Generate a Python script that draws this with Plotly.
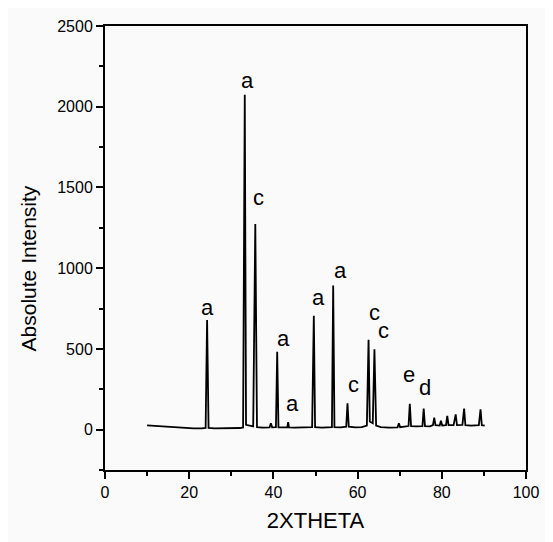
import plotly.graph_objects as go

# XRD pattern (2-theta in degrees, absolute intensity)
two_theta = [10.0, 11.0, 13.0, 15.0, 17.0, 19.0, 21.0, 23.0, 23.9, 24.25, 24.6,
             26.0, 28.0, 30.0, 32.0, 32.8, 33.2, 33.5, 35.2, 35.7, 36.1,
             37.5, 39.1, 39.4, 39.7, 40.6, 40.9, 41.2, 42.5, 43.3, 43.5, 43.7,
             45.0, 47.0, 49.2, 49.6, 49.9, 51.5, 53.9, 54.2, 54.5, 56.0,
             57.3, 57.6, 57.9, 59.5, 61.0, 62.2, 62.6, 62.9, 63.6, 64.0, 64.4,
             65.5, 67.5, 69.5, 69.8, 70.1, 71.5, 72.1, 72.4, 72.7, 74.0,
             75.4, 75.7, 76.0, 77.2, 77.9, 78.2, 78.5, 79.5, 79.8, 80.1,
             81.0, 81.3, 81.6, 82.8, 83.3, 83.6, 84.9, 85.3, 85.6, 87.0,
             88.8, 89.2, 89.5, 90.2]
intensity = [26, 24, 20, 16, 13, 10, 8, 8, 10, 679, 10,
             8, 8, 9, 10, 14, 2074, 30, 20, 1273, 15,
             12, 14, 40, 14, 15, 482, 14, 12, 14, 46, 14,
             12, 12, 16, 706, 15, 12, 16, 892, 16, 14,
             18, 163, 18, 14, 16, 25, 557, 50, 40, 498, 25,
             15, 12, 14, 40, 15, 18, 22, 160, 22, 20,
             22, 130, 22, 20, 28, 75, 28, 25, 55, 25,
             28, 85, 28, 28, 95, 28, 30, 130, 28, 25,
             28, 126, 28, 25]

# Peak labels (phase letters) and their positions
label_text = ["a", "a", "c", "a", "a", "a", "a", "c", "c", "c", "e", "d"]
label_x = [24.4, 33.8, 36.5, 42.5, 44.5, 50.6, 55.9, 59.1, 64.0, 66.2, 72.3, 76.1]
label_y = [746, 2149, 1425, 553, 148, 807, 973, 270, 715, 600, 330, 263]

x_ticks = [0, 20, 40, 60, 80, 100]
y_ticks = [0, 500, 1000, 1500, 2000, 2500]

FONT = "Arial, Liberation Sans, sans-serif"

fig = go.Figure()
fig.add_trace(go.Scatter(
    x=two_theta, y=intensity, mode="lines",
    line=dict(color="black", width=1.8),
    showlegend=False, hoverinfo="skip",
))

for t, x, y in zip(label_text, label_x, label_y):
    fig.add_annotation(
        x=x, y=y, text=t, showarrow=False,
        xanchor="center", yanchor="middle",
        yshift=0 if t == "d" else 2,
        font=dict(family=FONT, size=22, color="black"),
    )

# y-axis title as annotation (it sits a bit below the axis midpoint in the reference)
fig.add_annotation(
    xref="paper", yref="paper", x=0, y=0.454, xshift=-77,
    text="Absolute Intensity", textangle=-90, showarrow=False,
    xanchor="center", yanchor="middle",
    font=dict(family=FONT, size=21, color="black"),
)

axis_common = dict(
    showgrid=False, zeroline=False,
    showline=True, linecolor="black", linewidth=2, mirror=True,
    ticks="outside", ticklen=7, tickwidth=1.5, tickcolor="black",
    tickfont=dict(family=FONT, size=16, color="black"),
)

fig.update_xaxes(
    range=[0, 100], tickvals=x_ticks, ticktext=[str(v) for v in x_ticks],
    minor=dict(dtick=10, tick0=0, ticks="outside", ticklen=4, tickwidth=1.5, tickcolor="black"),
    title=dict(text="2XTHETA", font=dict(family=FONT, size=22, color="black"), standoff=12),
    **axis_common,
)
fig.update_yaxes(
    range=[-250, 2500], tickvals=y_ticks, ticktext=[str(v) for v in y_ticks],
    minor=dict(dtick=250, tick0=0, ticks="outside", ticklen=4, tickwidth=1.5, tickcolor="black"),
    **axis_common,
)

# the page body has an 8px default margin, so the figure is sized/offset to compensate
fig.update_layout(
    width=545, height=534,
    margin=dict(l=97, r=27, t=10, b=72),
    paper_bgcolor="#fafafa", plot_bgcolor="#fafafa",
    font=dict(family=FONT, color="black"),
)

fig.write_html("out.html")
